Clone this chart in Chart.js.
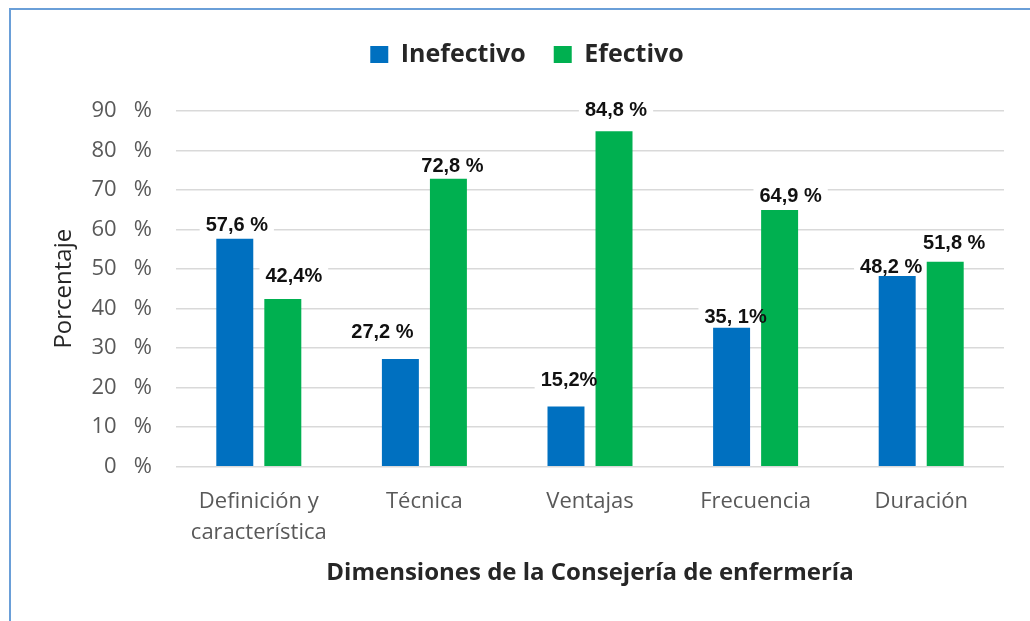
<!DOCTYPE html>
<html>
<head>
<meta charset="utf-8">
<script src="https://cdn.jsdelivr.net/npm/chart.js@4.4.1/dist/chart.umd.min.js"></script>
<style>
  html, body { margin: 0; padding: 0; background: #fff; }
  #wrap { position: relative; width: 1030px; height: 621px; overflow: hidden; }
  #frame { position: absolute; left: 9px; top: 8px; width: 1100px; height: 700px;
           border-top: 2px solid #6a9fd8; border-left: 2px solid #6a9fd8; pointer-events: none; }
  canvas { position: absolute; left: 0; top: 0; }
</style>
</head>
<body>
<div id="wrap">
  <canvas id="chart" width="1030" height="621"></canvas>
  <div id="frame"></div>
</div>
<script>
// data
const categories = [['Definición y', 'característica'], 'Técnica', 'Ventajas', 'Frecuencia', 'Duración'];
const inefectivo = [57.6, 27.2, 15.2, 35.1, 48.2];
const efectivo   = [42.4, 72.8, 84.8, 64.9, 51.8];
const inefectivoLabels = ['57,6 %', '27,2 %', '15,2%', '35, 1%', '48,2 %'];
const efectivoLabels   = ['42,4%', '72,8 %', '84,8 %', '64,9 %', '51,8 %'];

const BLUE = '#0070c0';
const GREEN = '#00b050';
const GREY_TXT = '#595959';

// value labels: white box under the text (drawn before bars so it only hides gridlines)
const valueLabels = {
  id: 'valueLabels',
  _each(chart, opts, fn) {
    chart.data.datasets.forEach((ds, di) => {
      chart.getDatasetMeta(di).data.forEach((bar, i) => {
        const [dx, dy] = opts.offsets[di][i];
        fn(ds.valueText[i], bar.x + dx, bar.y + dy);
      });
    });
  },
  beforeDatasetsDraw(chart, args, opts) {
    const ctx = chart.ctx;
    ctx.save();
    ctx.font = opts.font;
    ctx.fillStyle = '#fff';
    this._each(chart, opts, (txt, x, y) => {
      const w = ctx.measureText(txt).width + 12;
      ctx.fillRect(x - w / 2, y - 12, w, 24);
    });
    ctx.restore();
  },
  afterDatasetsDraw(chart, args, opts) {
    const ctx = chart.ctx;
    ctx.save();
    ctx.font = opts.font;
    ctx.fillStyle = '#111';
    ctx.textAlign = 'center';
    ctx.textBaseline = 'middle';
    this._each(chart, opts, (txt, x, y) => ctx.fillText(txt, x, y));
    ctx.restore();
  }
};

// fixed legend height so the plot area lands where the original has it
const legendHeight = {
  id: 'legendHeight',
  beforeLayout(chart) {
    const lg = chart.legend;
    if (lg && !lg._fixed) {
      const fit = lg.fit;
      lg.fit = function () { fit.call(this); this.height = 96.7; };
      lg._fixed = true;
    }
  }
};

new Chart(document.getElementById('chart'), {
  type: 'bar',
  data: {
    labels: categories,
    datasets: [
      { label: 'Inefectivo', data: inefectivo, valueText: inefectivoLabels, backgroundColor: BLUE },
      { label: 'Efectivo', data: efectivo, valueText: efectivoLabels, backgroundColor: GREEN }
    ]
  },
  options: {
    responsive: false,
    animation: false,
    devicePixelRatio: 1,
    categoryPercentage: 0.58,
    barPercentage: 0.77,
    layout: { padding: { top: 14, right: 26, bottom: 20, left: 50 } },
    plugins: {
      tooltip: { enabled: false },
      legend: {
        position: 'top',
        labels: {
          boxWidth: 18, boxHeight: 17, padding: 28, color: '#262626',
          font: { family: 'Open Sans', size: 25, weight: 'bold' }
        }
      },
      valueLabels: {
        font: 'bold 20px "Liberation Sans", Arial, sans-serif',
        offsets: [
          [[2, -13], [-18, -27], [3, -26], [4, -10], [-6, -9]],
          [[11, -23], [4, -12], [2, -21], [11, -14], [9, -18]]
        ]
      }
    },
    scales: {
      x: {
        afterFit(s) { s.height = 134.3; },
        grid: { display: false },
        border: { display: false },
        ticks: {
          color: GREY_TXT, padding: 12, maxRotation: 0,
          font: { family: 'Open Sans', size: 22, lineHeight: 1.4 }
        },
        title: {
          display: true, text: 'Dimensiones de la Consejería de enfermería', color: '#262626',
          font: { family: 'Open Sans', size: 24, weight: 'bold' },
          padding: { top: 0, bottom: 13 }
        }
      },
      y: {
        min: 0, max: 90,
        afterFit(s) { s.width = 126; },
        grid: { color: '#d9d9d9', lineWidth: 1.5, drawTicks: false },
        border: { display: false },
        ticks: {
          stepSize: 10, color: GREY_TXT, padding: 24,
          font: { family: 'Open Sans', size: 22 },
          callback: v => v + '   %'
        },
        title: {
          display: true, text: 'Porcentaje', color: '#262626',
          font: { family: 'Open Sans', size: 24 },
          padding: { top: 0, bottom: 0 }
        }
      }
    }
  },
  plugins: [valueLabels, legendHeight]
});
</script>
</body>
</html>
